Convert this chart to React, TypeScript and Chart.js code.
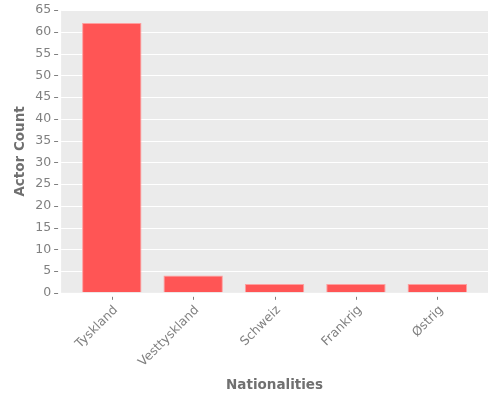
import { useEffect, useRef } from "react";
import { Chart, registerables } from "chart.js";

Chart.register(...registerables);

const nationalities = ["Tyskland", "Vesttyskland", "Schweiz", "Frankrig", "Østrig"];
const actorCounts = [62, 4, 2, 2, 2];

const TICK_GRAY = "#808080";
const TITLE_GRAY = "#707070";
const FONT = "DejaVu Sans";
// gray panel reaches a bit past the category band on both sides, like matplotlib margins
const PANEL_MARGIN = 10;

const ggPanel = {
  id: "ggPanel",
  beforeDatasetsDraw(chart: Chart) {
    const { ctx, chartArea, scales } = chart;
    if (!chartArea) return;
    const left = chartArea.left - PANEL_MARGIN;
    const right = chartArea.right + PANEL_MARGIN;
    ctx.save();
    ctx.fillStyle = "#EBEBEB";
    ctx.fillRect(left, chartArea.top, right - left, chartArea.bottom - chartArea.top);

    const y = scales.y;
    ctx.strokeStyle = "#FFFFFF";
    ctx.lineWidth = 1;
    y.ticks.forEach((t) => {
      const py = Math.round(y.getPixelForValue(t.value)) + 0.5;
      ctx.beginPath();
      ctx.moveTo(left, py);
      ctx.lineTo(right, py);
      ctx.stroke();
    });

    ctx.strokeStyle = TICK_GRAY;
    y.ticks.forEach((t) => {
      const py = Math.round(y.getPixelForValue(t.value)) + 0.5;
      ctx.beginPath();
      ctx.moveTo(left - 7, py);
      ctx.lineTo(left - 3, py);
      ctx.stroke();
    });

    const x = scales.x;
    nationalities.forEach((_, i) => {
      const px = Math.round(x.getPixelForValue(i)) + 0.5;
      ctx.beginPath();
      ctx.moveTo(px, chartArea.bottom + 4);
      ctx.lineTo(px, chartArea.bottom + 7);
      ctx.stroke();
    });
    ctx.restore();
  },
};

export default function App() {
  const ref = useRef<HTMLCanvasElement>(null);

  useEffect(() => {
    document.body.style.margin = "0";
    if (!ref.current) return;
    const chart = new Chart(ref.current, {
      type: "bar",
      data: {
        labels: nationalities,
        datasets: [
          {
            label: "Actor Count",
            data: actorCounts,
            backgroundColor: "#FF5555",
            borderColor: "#FF9F9F",
            borderWidth: 1,
            barPercentage: 0.73,
            categoryPercentage: 1,
          },
        ],
      },
      options: {
        animation: false,
        responsive: false,
        devicePixelRatio: 1,
        layout: { padding: { top: 10, right: 22, left: 3, bottom: 4 } },
        plugins: { legend: { display: false }, tooltip: { enabled: false } },
        scales: {
          x: {
            border: { display: false },
            grid: { display: true, drawOnChartArea: false, tickLength: 10, tickColor: "rgba(0,0,0,0)" },
            ticks: {
              color: TICK_GRAY,
              font: { family: FONT, size: 12.5 },
              minRotation: 45,
              maxRotation: 45,
              padding: 0,
              labelOffset: 4,
            },
            title: {
              display: true,
              text: "Nationalities",
              color: TITLE_GRAY,
              font: { family: FONT, size: 13.5, weight: "bold" },
              padding: { top: 8, bottom: 2 },
            },
            afterFit(scale: any) {
              scale.paddingLeft = 0;
              scale.paddingRight = 0;
            },
          },
          y: {
            min: 0,
            max: 65,
            border: { display: false },
            grid: { display: true, drawOnChartArea: false, tickLength: 17, tickColor: "rgba(0,0,0,0)" },
            ticks: {
              stepSize: 5,
              color: TICK_GRAY,
              font: { family: FONT, size: 12.5 },
              padding: 3,
            },
            title: {
              display: true,
              text: "Actor Count",
              color: TITLE_GRAY,
              font: { family: FONT, size: 13.5, weight: "bold" },
              padding: { top: 9, bottom: 4 },
            },
            afterFit(scale: any) {
              scale.paddingTop = 0;
              scale.paddingBottom = 0;
            },
          },
        },
      },
      plugins: [ggPanel],
    });
    return () => chart.destroy();
  }, []);

  return (
    <div style={{ width: 500, height: 400, background: "#FFFFFF" }}>
      <canvas ref={ref} width={500} height={400} />
    </div>
  );
}
